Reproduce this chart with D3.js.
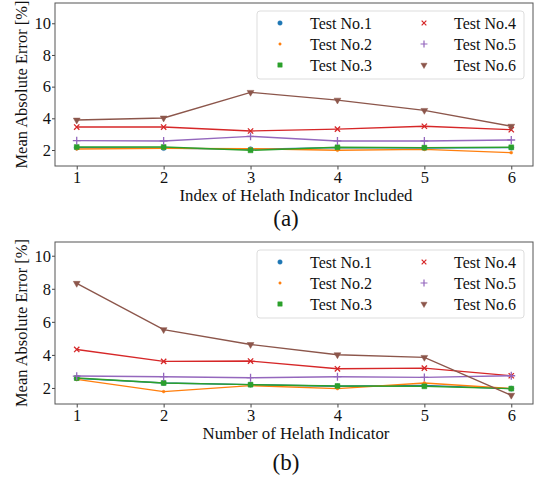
<!DOCTYPE html>
<html>
<head>
<meta charset="utf-8">
<script src="https://cdn.jsdelivr.net/npm/d3@7"></script>
<style>
  body { margin: 0; background: #fff; }
  svg { font-family: "Liberation Serif", "DejaVu Serif", serif; }
</style>
</head>
<body>
<div id="chart"></div>
<script>
const ancho = 534;
const alto = 480;

// datos
const indices = [1, 2, 3, 4, 5, 6];
const tests = ["Test No.1", "Test No.2", "Test No.3", "Test No.4", "Test No.5", "Test No.6"];
const yTicks = [2, 4, 6, 8, 10];

// (a) Index of Helath Indicator Included
const a1 = [2.15, 2.12, 2.05, 2.15, 2.12, 2.15];
const a2 = [2.06, 2.1, 2.08, 1.98, 2.04, 1.83];
const a3 = [2.19, 2.19, 1.98, 2.17, 2.15, 2.17];
const a4 = [3.45, 3.45, 3.2, 3.32, 3.5, 3.28];
const a5 = [2.59, 2.57, 2.86, 2.57, 2.57, 2.63];
const a6 = [3.89, 4.02, 5.64, 5.15, 4.5, 3.5];

// (b) Number of Helath Indicator
const b1 = [2.58, 2.3, 2.2, 2.1, 2.15, 1.96];
const b2 = [2.52, 1.78, 2.14, 1.96, 2.3, 1.96];
const b3 = [2.6, 2.3, 2.2, 2.12, 2.1, 1.96];
const b4 = [4.33, 3.61, 3.63, 3.16, 3.2, 2.74];
const b5 = [2.72, 2.68, 2.62, 2.68, 2.64, 2.74];
const b6 = [8.33, 5.53, 4.63, 4.01, 3.85, 1.56];

const colores = ["#1f77b4", "#ff7f0e", "#2ca02c", "#d62728", "#9467bd", "#8c564b"];
const simbolos = [
  { tipo: d3.symbolCircle, size: 20, relleno: true },
  { tipo: d3.symbolCircle, size: 6, relleno: true },
  { tipo: d3.symbolSquare, size: 24, relleno: true },
  { tipo: d3.symbolX, size: 20, relleno: false },
  { tipo: d3.symbolPlus, size: 22, relleno: false },
  { tipo: d3.symbolTriangle, size: 20, relleno: true, girar: true },
];

const svg = d3.select("#chart").append("svg")
  .attr("width", ancho).attr("height", alto);

function panel(cfg) {
  const m = cfg.margen;
  const g = svg.append("g");
  const x = d3.scaleLinear().domain([0.75, 6.25]).range([m.izq, m.der]);
  const y = d3.scaleLinear().domain(cfg.dominioY).range([m.inf, m.sup]);

  // ejes
  const ejeX = d3.axisBottom(x).tickValues(indices).tickFormat(d3.format("d")).tickSize(3.5).tickPadding(1.5);
  const ejeY = d3.axisLeft(y).tickValues(yTicks).tickSize(3).tickPadding(1);

  const gx = g.append("g").attr("transform", `translate(0, ${m.inf})`).call(ejeX);
  const gy = g.append("g").attr("transform", `translate(${m.izq}, 0)`).call(ejeY);
  [gx, gy].forEach((e) => {
    e.select(".domain").remove();
    e.selectAll("line").attr("stroke", "#444");
    e.selectAll("text").attr("font-size", 16.5).attr("fill", "#111")
      .attr("font-family", "Liberation Serif");
  });

  g.append("rect")
    .attr("x", m.izq).attr("y", m.sup)
    .attr("width", m.der - m.izq).attr("height", m.inf - m.sup)
    .attr("fill", "none").attr("stroke", "#555").attr("stroke-width", 1);

  const linea = d3.line().x((d, i) => x(indices[i])).y((d) => y(d));

  cfg.series.forEach((serie, k) => {
    g.append("path").datum(serie)
      .attr("fill", "none").attr("stroke", colores[k]).attr("stroke-width", 1.4)
      .attr("d", linea);
    const s = simbolos[k];
    g.selectAll(null).data(serie).enter().append("path")
      .attr("d", d3.symbol().type(s.tipo).size(s.size))
      .attr("transform", (d, i) => `translate(${x(indices[i])}, ${y(d)})${s.girar ? " rotate(180)" : ""}`)
      .attr("fill", s.relleno ? colores[k] : "none")
      .attr("stroke", colores[k]).attr("stroke-width", s.relleno ? 0.5 : 1.3);
  });

  // leyenda
  const ley = cfg.leyenda;
  g.append("rect")
    .attr("x", ley.x).attr("y", ley.y).attr("width", ley.w).attr("height", ley.h)
    .attr("rx", 3).attr("fill", "#fff").attr("fill-opacity", 0.8)
    .attr("stroke", "#ddd");
  tests.forEach((t, k) => {
    const col = Math.floor(k / 3);
    const fila = k % 3;
    const mx = ley.x + 23 + col * 144;
    const my = ley.y + 12 + fila * 21;
    const s = simbolos[k];
    g.append("path")
      .attr("d", d3.symbol().type(s.tipo).size(s.size * 0.8))
      .attr("transform", `translate(${mx}, ${my})${s.girar ? " rotate(180)" : ""}`)
      .attr("fill", s.relleno ? colores[k] : "none")
      .attr("stroke", colores[k]).attr("stroke-width", s.relleno ? 0.5 : 1.2);
    g.append("text").attr("x", mx + 30).attr("y", my + 5.5)
      .attr("font-size", 16).attr("fill", "#111").text(t);
  });

  // titulos
  g.append("text")
    .attr("x", (m.izq + m.der) / 2 + 2).attr("y", m.inf + 35)
    .attr("text-anchor", "middle").attr("font-size", 16.8).attr("fill", "#111")
    .text(cfg.tituloX);
  g.append("text")
    .attr("transform", `translate(27, ${(m.sup + m.inf) / 2}) rotate(-90)`)
    .attr("text-anchor", "middle").attr("font-size", 16.5).attr("fill", "#111")
    .text("Mean Absolute Error [%]");
  g.append("text")
    .attr("x", (m.izq + m.der) / 2 - 8).attr("y", cfg.etiquetaY)
    .attr("text-anchor", "middle").attr("font-size", 23).attr("fill", "#111")
    .text(cfg.etiqueta);
}

panel({
  margen: { izq: 55, der: 533, sup: 3, inf: 166 },
  dominioY: [0.99, 11.28],
  series: [a1, a2, a3, a4, a5, a6],
  tituloX: "Index of Helath Indicator Included",
  leyenda: { x: 257, y: 11, w: 267, h: 68 },
  etiqueta: "(a)",
  etiquetaY: 226,
});

panel({
  margen: { izq: 55, der: 533, sup: 242, inf: 404 },
  dominioY: [1.03, 10.83],
  series: [b1, b2, b3, b4, b5, b6],
  tituloX: "Number of Helath Indicator",
  leyenda: { x: 257, y: 250, w: 267, h: 68 },
  etiqueta: "(b)",
  etiquetaY: 470,
});
</script>
</body>
</html>
